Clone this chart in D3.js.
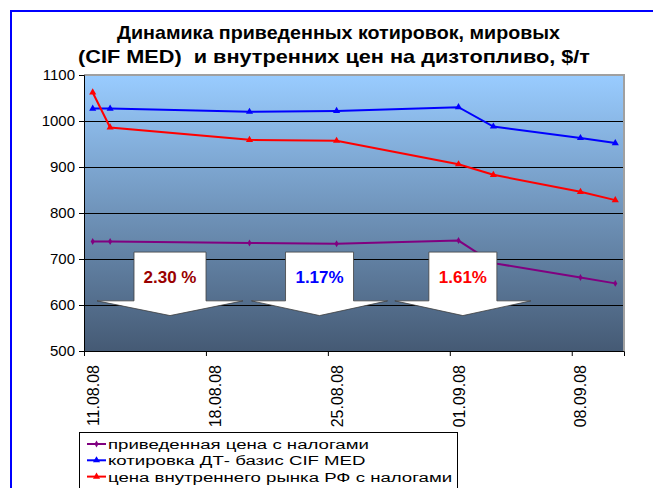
<!DOCTYPE html>
<html><head><meta charset="utf-8">
<script src="https://cdn.jsdelivr.net/npm/d3@7"></script>
<style>body{margin:0;background:#fff}svg{display:block}text{font-family:Arial,"Liberation Sans",sans-serif}</style>
</head><body><svg id="c" width="653" height="488"></svg>
<script>
const dates = ["2008-08-11","2008-08-12","2008-08-20","2008-08-25","2008-09-01","2008-09-03","2008-09-08","2008-09-10"];
const purple = [738, 738, 735, 733, 740, 691, 660, 647];
const blue   = [1027, 1027, 1020, 1022, 1030, 988, 963, 952];
const red    = [1062, 986, 959, 957, 906, 883, 846, 828];
const seriesNames = ["приведенная цена с налогами","котировка ДТ- базис CIF MED","цена внутреннего рынка РФ с налогами"];
const yTicks = [500,600,700,800,900,1000,1100];
const xTickDates = ["2008-08-11","2008-08-18","2008-08-25","2008-09-01","2008-09-08"];
const xTickLabels = ["11.08.08","18.08.08","25.08.08","01.09.08","08.09.08"];
const arrowLabels = ["2.30 %","1.17%","1.61%"];
const arrowCenters = ["2008-08-15T22:30","2008-08-24T12:30","2008-09-01T18:00"];
const titleLines = ["Динамика приведенных котировок, мировых","(CIF MED)  и внутренних цен на дизтопливо, $/т"];

const parse = d3.utcParse("%Y-%m-%d");
const parseT = d3.utcParse("%Y-%m-%dT%H:%M");
const svg = d3.select("#c");
const L=84,R=624,T=75,B=351;
const x = d3.scaleUtc().domain([parse("2008-08-11"), parse("2008-09-11")]).range([L,R]);
const y = d3.scaleLinear().domain([500,1100]).range([B,T]);
const mid = s => new Date(parse(s).getTime()+12*3600e3);

// outer frame
svg.append("rect").attr("x",11).attr("y",11).attr("width",660).attr("height",500)
  .attr("fill","#fff").attr("stroke","#0000ff").attr("stroke-width",2);

// title
const titleSpan = [[117,443],[78,512]];
svg.append("g").selectAll("text").data(titleLines).join("text")
  .attr("x",(d,i)=>titleSpan[i][0]).attr("y",(d,i)=>39+i*24)
  .attr("textLength",(d,i)=>titleSpan[i][1]).attr("lengthAdjust","spacingAndGlyphs")
  .attr("font-size",19).attr("font-weight","bold").attr("fill","#000").style("white-space","pre").text(d=>d);

// gradient
const defs = svg.append("defs");
const g = defs.append("linearGradient").attr("id","bg").attr("x1",0).attr("y1",0).attr("x2",0).attr("y2",1);
g.append("stop").attr("offset","0%").attr("stop-color","#99ccff");
g.append("stop").attr("offset","100%").attr("stop-color","#455a74");
svg.append("rect").attr("x",L).attr("y",T).attr("width",R-L).attr("height",B-T).attr("fill","url(#bg)");

// gridlines
svg.append("g").selectAll("line").data(yTicks.slice(1,-1)).join("line")
  .attr("x1",L).attr("x2",R).attr("y1",d=>y(d)).attr("y2",d=>y(d))
  .attr("stroke","#000").attr("stroke-width",1).attr("shape-rendering","crispEdges");
// plot border top/right
svg.append("path").attr("d",`M${L},${T}H${R}V${B}`).attr("fill","none").attr("stroke","#a0a0a0").attr("stroke-width",2);

// y axis
const ya = svg.append("g").attr("transform",`translate(${L},0)`)
  .call(d3.axisLeft(y).tickValues(yTicks).tickSize(5).tickFormat(d3.format("d")));
ya.select(".domain").attr("stroke","#000");
ya.selectAll("text").attr("font-size",15).attr("font-family","Arial").attr("fill","#000").attr("dx","-1");

// x axis
const xa = svg.append("g").attr("transform",`translate(0,${B})`)
  .call(d3.axisBottom(x).tickValues(xTickDates.map(parse)).tickSize(5).tickFormat(""));
xa.select(".domain").attr("stroke","#000");
svg.append("g").selectAll("text").data(xTickDates).join("text")
  .attr("transform",(d,i)=>`translate(${x(mid(d))+6},365) rotate(-90)`)
  .attr("text-anchor","end").attr("font-size",16).attr("fill","#000")
  .text((d,i)=>xTickLabels[i]);

// lines
const data = [purple, blue, red];
const colors = ["#800080","#0000ff","#ff0000"];
const line = d3.line().x((d,i)=>x(mid(dates[i]))).y(d=>y(d));
data.forEach((s,k)=>{
  svg.append("path").attr("d",line(s)).attr("fill","none").attr("stroke",colors[k]).attr("stroke-width",2);
  const sym = k===0 ? d3.symbolDiamond : d3.symbolTriangle;
  const sz = k===0 ? 14 : 22;
  svg.append("g").selectAll("path").data(s).join("path")
    .attr("transform",(d,i)=>`translate(${x(mid(dates[i]))},${y(d)})`)
    .attr("d",d3.symbol(sym,sz)).attr("fill",colors[k]);
});

// arrows
const shaftW=[36,34,34], headW=[73,68,68];
const textColors=["#990000","#0000ff","#ff0000"];
arrowCenters.forEach((c,i)=>{
  const cx = x(parseT(c));
  const yTop=y(715), yHead=y(609), yTip=y(577);
  const p = `M${cx-shaftW[i]},${yTop}H${cx+shaftW[i]}V${yHead}H${cx+headW[i]}L${cx},${yTip}L${cx-headW[i]},${yHead}H${cx-shaftW[i]}Z`;
  svg.append("path").attr("d",p).attr("fill","#fff").attr("stroke","#404040").attr("stroke-width",0.8);
  svg.append("text").attr("x",cx).attr("y",283).attr("text-anchor","middle")
    .attr("font-size",17).attr("font-weight","bold").attr("fill",textColors[i]).text(arrowLabels[i]);
});

// legend
const lg = svg.append("g");
lg.append("rect").attr("x",79.5).attr("y",432.5).attr("width",378).attr("height",70)
  .attr("fill","#fff").attr("stroke","#000").attr("stroke-width",1);
seriesNames.forEach((n,k)=>{
  const yy = 444+k*16.3;
  lg.append("line").attr("x1",87).attr("x2",106).attr("y1",yy).attr("y2",yy).attr("stroke",colors[k]).attr("stroke-width",2);
  lg.append("path").attr("transform",`translate(96.5,${yy})`)
    .attr("d",d3.symbol(k===0?d3.symbolDiamond:d3.symbolTriangle,k===0?14:22)).attr("fill",colors[k]);
  lg.append("text").attr("transform",`translate(108,${yy+4.9}) scale(1.38,1)`)
    .attr("font-size",13.5).attr("fill","#000").text(n);
});
</script></body></html>
